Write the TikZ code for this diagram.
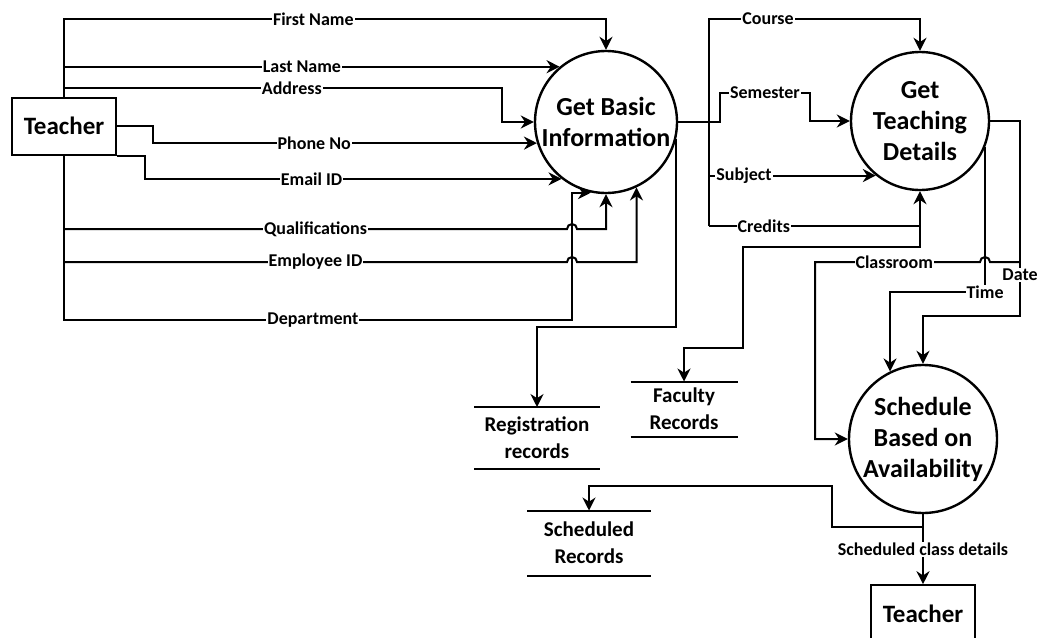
\documentclass[tikz,border=0pt]{standalone}
\usepackage{fontspec}
\setmainfont{Carlito}
\usetikzlibrary{positioning}
\usetikzlibrary{arrows.meta}

\begin{document}
\begin{tikzpicture}[ x = 1pt, y = -1pt
                     , line width = 2pt
                     , >={Stealth[width=13pt, length=13pt]}
                     , process/.style = { circle
                                        , draw
                                        , line width = 2.4pt
                                        , align = center
                                        , inner sep = 0pt
                                        , font = \fontsize{26}{31}\selectfont\bfseries }
                     , entity/.style = { rectangle
                                       , draw
                                       , minimum width = 104pt
                                       , minimum height = 57pt
                                       , font = \fontsize{25}{30}\selectfont\bfseries }
                     , store/.style = { align = center
                                      , font = \fontsize{21}{27}\selectfont\bfseries }
                     ]
  \useasboundingbox (0,0) rectangle (1041,637);

  %%
  %% Nodes
  %%
  \node (teacher) [entity] at (64,126) {Teacher};
  \node (basic) [process, minimum size = 142pt] at (606,122) {Get Basic\\Information};
  \node (teach) [process, minimum size = 138pt] at (920,121) {Get\\Teaching\\Details};
  \node (sched) [process, minimum size = 148pt] at (923,439) {Schedule\\Based on\\Availability};
  \node (teacher2) [entity, below = 70pt of sched] {Teacher};

  \node (reg) [store, minimum width = 124pt, minimum height = 60pt] at (537,438) {Registration\\records};
  \node (fac) [store, minimum width = 105pt, minimum height = 53pt] at (684,409) {Faculty\\Records};
  \node (srec) [store, minimum width = 122pt, minimum height = 63pt] at (589,543) {Scheduled\\Records};
  % Data stores are open boxes: only a top and a bottom line.
  \foreach \s in {reg, fac, srec}
    \draw (\s.north west) -- (\s.north east) (\s.south west) -- (\s.south east);

  \coordinate (rbus) at (709,226);

  \tikzset{every node/.style={fill=white, inner sep=1pt, font=\fontsize{18}{20}\selectfont\bfseries}}
  %%
  %% Data flows (arrows)
  %%
  % Teacher to Get Basic Information. The bus on the left runs through the box.
  \draw[->] (teacher.north) -- (teacher.north |- 0,19)
            -- node[pos=.46] {First Name} (basic |- 0,19) -- (basic);
  \draw[->] (teacher.north |- basic.130) -- node[pos=.48] {Last Name} (basic.130);
  \draw[->] (teacher.north |- 0,88) -- node[pos=.52] {Address} (502,88) |- (basic.west);
  \draw[->] (teacher.east) -- ++(36,0) |- node[pos=.71] {Phone No} (basic.197);
  \draw[->] (teacher.south east) -- ++(28,0) |- node[pos=.7] {Email ID} (basic.232);
  % These two hop over the Department line.
  \draw[->] (teacher.south |- 0,229) -- node[pos=.5] {Qualifications} (567,229)
            arc[start angle=180, end angle=360, radius=5] -| (basic.south);
  \draw[->] (teacher.south |- 0,262) -- node[pos=.5] {Employee ID} (567,262)
            arc[start angle=180, end angle=360, radius=5] -| (basic.295);
  \draw[->] (teacher.south) -- (teacher.south |- 0,320)
            -- node[pos=.49] {Department} (572,320) |- (basic.258);
  \draw[->] (basic.346) -- (basic.346 |- 0,327) -| (reg.north);

  % Get Teaching Details
  \draw[->] (basic.east) -- (720,122) |- node[pos=.75] {Semester} (810,93) |- (teach.west);
  \draw[->] (rbus) -- (rbus |- 0,19) -- node[pos=.28] {Course} (teach |- 0,19) -- (teach);
  \draw[->] (rbus |- teach.231) -- node[pos=.21] {Subject} (teach.231);
  \draw[->] (rbus) -- node[pos=.26] {Credits} (rbus -| teach) -- (teach);
  \draw[->] (rbus -| teach) -- ++(0,21) -| (743,348) -| (fac.north);

  % Schedule Based on Availability
  \draw[->] (teach.east) -- (1020,121) -- node[pos=.79] {Date} (1020,316) -| (sched.north);
  \draw[->] (teach.338) -- (teach.338 |- 0,292) -| node[pos=0] {Time} (sched.116);
  \draw[->] (1020,262) -- (990,262) arc[start angle=0, end angle=-180, radius=5]
            -- node[pos=.52] {Classroom} (815,262) |- (sched.west);
  \draw[->] (sched) -- node[pos=.5] {Scheduled class details} (teacher2);
  \draw[->] (sched.south |- 0,527) -| (832,486) -| (srec.north);
\end{tikzpicture}
\end{document}
